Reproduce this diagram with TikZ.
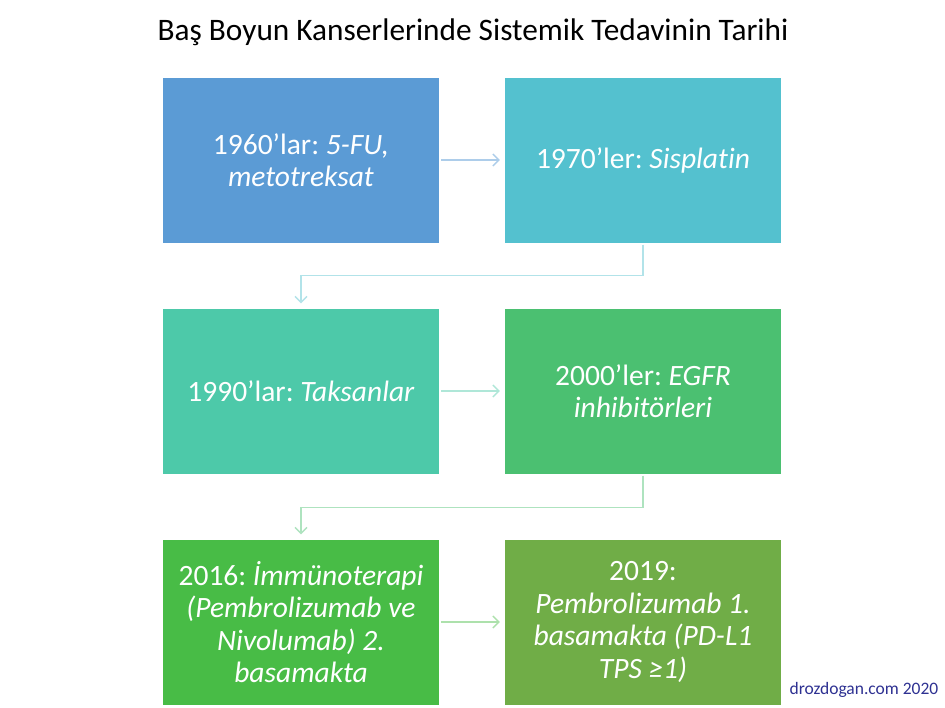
\documentclass[tikz,border=0pt]{standalone}
\usepackage{fontspec}
\setmainfont{Carlito}[Ligatures=NoCommon]
\usetikzlibrary{arrows.meta}
\definecolor{boxA}{HTML}{5B9BD5}
\definecolor{boxB}{HTML}{54C1CF}
\definecolor{boxC}{HTML}{4DC9A9}
\definecolor{boxD}{HTML}{4BC071}
\definecolor{boxE}{HTML}{48BC46}
\definecolor{boxF}{HTML}{70AD47}
\definecolor{footblue}{HTML}{2E3192}
\begin{document}
\frenchspacing
\begin{tikzpicture}[x=1pt,y=1pt,
    yearbox/.style={minimum width=276pt,minimum height=165pt,align=center,
      text=white,inner sep=0pt,font=\fontsize{29.5}{32.5}\selectfont},
    conn/.style={line width=1.3pt,-{Straight Barb[length=6pt,width=12pt]},shorten <=2pt,shorten >=5pt}]
    \useasboundingbox [fill=white] (0,0) rectangle (945,-707);
    \node (title) at (473,-32) {\fontsize{31.3}{34}\selectfont Baş Boyun Kanserlerinde Sistemik Tedavinin Tarihi};
    \node [yearbox][fill=boxA] (b1) at (301,-160) {1960’lar: \textit{5-FU,}\\ \textit{metotreksat}};
    \node [yearbox][fill=boxB] (b2) at (643,-160) {1970’ler: \textit{Sisplatin}};
    \node [yearbox][fill=boxC] (b3) at (301,-391) {1990’lar: \textit{Taksanlar}};
    \node [yearbox][fill=boxD] (b4) at (643,-391) {2000’ler: \textit{EGFR}\\ \textit{inhibitörleri}};
    \node [yearbox][fill=boxE] (b5) at (301,-622) {2016: \textit{İmmünoterapi}\\ \textit{(Pembrolizumab ve}\\ \textit{Nivolumab) 2.}\\ \textit{basamakta}};
    \node [yearbox][fill=boxF] (b6) at (643,-622) {2019:\\ \textit{Pembrolizumab 1.}\\ \textit{basamakta (PD-L1}\\ \textit{TPS ≥1)}};
    \draw [conn][boxA!50] (b1.east) -- (b2.west);
    \draw [conn][boxB!45] (b2.south) -- ++(0,-33) -| (b3.north);
    \draw [conn][boxC!45] (b3.east) -- (b4.west);
    \draw [conn][boxD!45] (b4.south) -- ++(0,-34) -| (b5.north);
    \draw [conn][boxE!45] (b5.east) -- (b6.west);
    \node [text=footblue,font=\fontsize{17.5}{20}\selectfont] (foot) at (864,-690) {drozdogan.com 2020};
    \end{tikzpicture}
\end{document}
